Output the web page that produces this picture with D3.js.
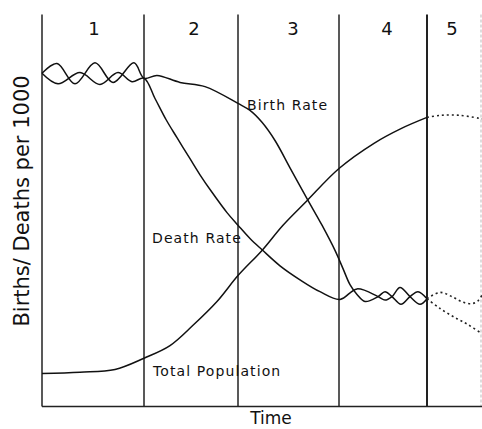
<!DOCTYPE html>
<html>
<head>
<meta charset="utf-8">
<script src="https://cdn.jsdelivr.net/npm/d3@7"></script>
<style>
  body { margin: 0; background: #fff; }
  text { font-family: "DejaVu Sans", Verdana, sans-serif; fill: #111; }
</style>
</head>
<body>
<div id="chart"></div>
<script>
// stages of the demographic transition (time in arbitrary units)
const stageNames = ["1", "2", "3", "4", "5"];
const stageEdges = [0, 25.5, 49, 74.25, 96.25];
const stageLabelT = [13, 38, 62.75, 86.25, 102.5];
const timeEnd = 109.75;

// births per 1000
const birthT    = [0, 3.75, 8.25, 13.25, 17.75, 23, 25.5, 28.75, 34.5, 40.75, 49, 52, 55, 58.25, 62, 66.25, 70, 73.25, 75.25, 77, 78.75, 80.75, 84, 85.75, 87.5, 89.75, 92, 94, 96.25];
const birthRate = [47.6, 49.0, 46.1, 49.1, 46.3, 49.1, 46.9, 47.3, 46.3, 45.7, 43.3, 42.3, 40.6, 38.0, 34.1, 29.7, 25.9, 22.3, 19.7, 17.4, 16.0, 15.0, 15.7, 16.4, 15.7, 14.6, 15.7, 16.4, 15.4];
const birthProjT    = [96.25, 99.5, 103.25, 106.5, 110];
const birthProjRate = [15.4, 14.0, 12.7, 11.7, 10.4];

// deaths per 1000
const deathT    = [0, 4, 9.5, 14.5, 19, 22.5, 25.5, 28.25, 31, 33.75, 37, 39.5, 42.5, 46.25, 49, 52, 55, 59.5, 64.5, 69.5, 74.5, 78.75, 84, 85.75, 87.5, 89.5, 92, 94.5, 96.25];
const deathRate = [47.6, 46.1, 47.7, 46.0, 47.7, 46.4, 46.9, 44.0, 41.0, 38.4, 35.4, 33.1, 30.6, 27.7, 25.9, 24.0, 22.4, 20.1, 18.1, 16.4, 15.3, 16.8, 15.7, 15.2, 15.7, 17.0, 15.7, 14.6, 15.4];
const deathProjT    = [96.25, 99.5, 102.5, 105.25, 107.5, 109, 110];
const deathProjRate = [15.4, 16.3, 15.7, 14.9, 14.7, 15.1, 15.9];

// total population (relative level)
const popT     = [0, 9.5, 18.25, 25.5, 32, 37.75, 43.75, 49, 55, 60.25, 66.25, 74.25, 83, 89.75, 96.25];
const popLevel = [4.7, 4.9, 5.3, 6.9, 8.7, 11.6, 15.0, 18.7, 22.3, 25.9, 29.4, 34.0, 37.6, 39.7, 41.3];
const popProjT     = [96.25, 99.75, 104.5, 110];
const popProjLevel = [41.3, 41.6, 41.6, 41.1];

// line labels
const seriesLabels = ["Birth Rate", "Death Rate", "Total Population"];
const seriesLabelT = [51.25, 27.5, 27.75];
const seriesLabelV = [42.4, 23.3, 4.4];

const width = 482, height = 429;

const svg = d3.select("#chart").append("svg")
  .attr("width", width)
  .attr("height", height)
  .attr("viewBox", [0, 0, width, height]);

const x = d3.scaleLinear().domain([0, 110]).range([42, 482]);
const y = d3.scaleLinear().domain([0, 56]).range([406.5, 14.5]);

const zip = (ts, vs) => ts.map((t, i) => [t, vs[i]]);

const line = d3.line()
  .x(d => x(d[0]))
  .y(d => y(d[1]))
  .curve(d3.curveCatmullRom.alpha(0.5));

// stage dividers
svg.append("g")
  .selectAll("line")
  .data(stageEdges)
  .join("line")
  .attr("x1", d => x(d)).attr("x2", d => x(d))
  .attr("y1", y(56)).attr("y2", y(0))
  .attr("stroke", "#222")
  .attr("stroke-width", (d, i) => i == 4 ? 2 : 1.5);

// faint right edge
svg.append("line")
  .attr("x1", x(timeEnd)).attr("x2", x(timeEnd))
  .attr("y1", y(56)).attr("y2", y(0))
  .attr("stroke", "#bbb")
  .attr("stroke-width", 1)
  .attr("stroke-dasharray", "3 2");

// baseline
svg.append("line")
  .attr("x1", x(0)).attr("x2", x(110))
  .attr("y1", y(0)).attr("y2", y(0))
  .attr("stroke", "#222")
  .attr("stroke-width", 1.5);

// stage numbers
svg.append("g")
  .selectAll("text")
  .data(stageNames)
  .join("text")
  .attr("x", (d, i) => x(stageLabelT[i]))
  .attr("y", 35)
  .attr("text-anchor", "middle")
  .attr("font-size", 18)
  .text(d => d);

// solid series
const solid = [zip(birthT, birthRate), zip(deathT, deathRate), zip(popT, popLevel)];
svg.append("g")
  .selectAll("path")
  .data(solid)
  .join("path")
  .attr("d", line)
  .attr("fill", "none")
  .attr("stroke", "#111")
  .attr("stroke-width", 1.5);

// projected (dotted) series in stage 5
const proj = [zip(birthProjT, birthProjRate), zip(deathProjT, deathProjRate), zip(popProjT, popProjLevel)];
svg.append("g")
  .selectAll("path")
  .data(proj)
  .join("path")
  .attr("d", line)
  .attr("fill", "none")
  .attr("stroke", "#222")
  .attr("stroke-width", 1.6)
  .attr("stroke-dasharray", "2 3");

// line labels
svg.append("g")
  .selectAll("text")
  .data(seriesLabels)
  .join("text")
  .attr("x", (d, i) => x(seriesLabelT[i]))
  .attr("y", (d, i) => y(seriesLabelV[i]))
  .attr("font-size", 14)
  .attr("letter-spacing", 1.1)
  .text(d => d);

// axis titles
svg.append("text")
  .attr("transform", "translate(29," + 201 + ") rotate(-90)")
  .attr("text-anchor", "middle")
  .attr("font-size", 21)
  .text("Births/ Deaths per 1000");

svg.append("text")
  .attr("x", 271)
  .attr("y", 424)
  .attr("text-anchor", "middle")
  .attr("font-size", 17)
  .text("Time");
</script>
</body>
</html>
